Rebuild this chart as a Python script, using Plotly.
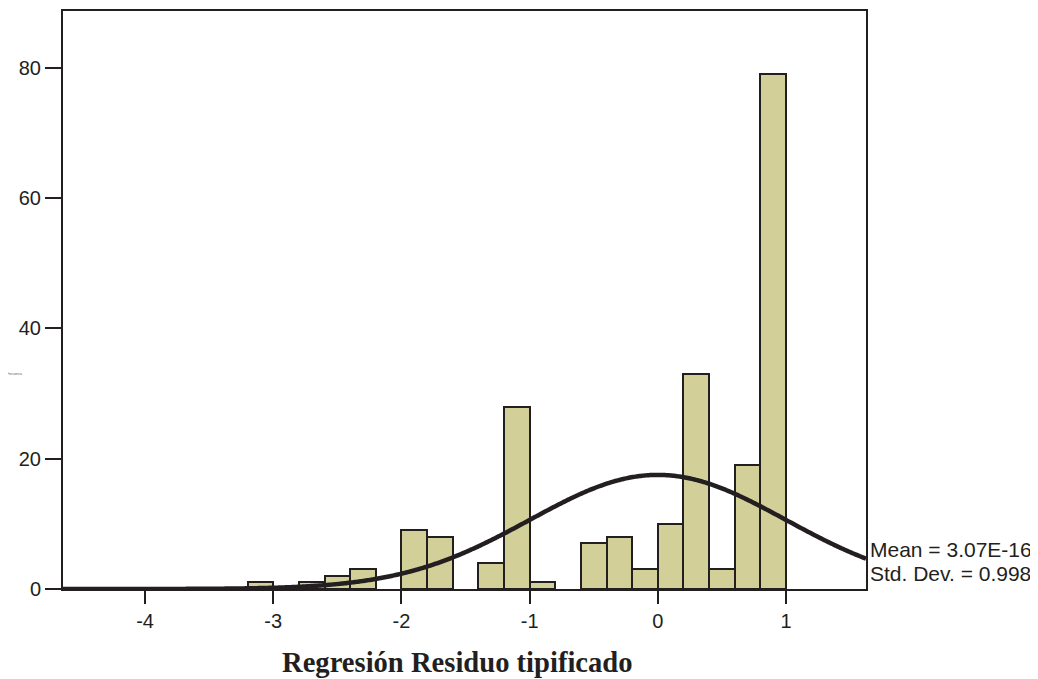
import numpy as np
import plotly.graph_objects as go

# Histogram data (bin starts, width 0.2)
bin_starts = [-3.2, -2.8, -2.6, -2.4, -2.0, -1.8, -1.4, -1.2, -1.0,
              -0.6, -0.4, -0.2, 0.0, 0.2, 0.4, 0.6, 0.8]
counts = [1, 1, 2, 3, 9, 8, 4, 28, 1, 7, 8, 3, 10, 33, 3, 19, 79]
bin_width = 0.2
mean_val = 3.07e-16
std_val = 0.998
x_ticks = [-4, -3, -2, -1, 0, 1]
y_ticks = [0, 20, 40, 60, 80]

n_total = sum(counts)
centers = [b + bin_width / 2 for b in bin_starts]

xr = [-4.64, 1.624]
xs = np.linspace(xr[0], xr[1], 600)
ys = n_total * bin_width / (std_val * np.sqrt(2 * np.pi)) * np.exp(-0.5 * ((xs - mean_val) / std_val) ** 2)

ink = "#231f20"
fig = go.Figure()
fig.add_trace(go.Bar(x=centers, y=counts, width=[bin_width] * len(counts),
                     marker=dict(color="#d3cf99", line=dict(color=ink, width=2)),
                     hoverinfo="x+y"))
fig.add_trace(go.Scatter(x=xs, y=ys, mode="lines",
                         line=dict(color=ink, width=4.5, simplify=False),
                         cliponaxis=True))

# page body has an 8px margin, so the figure is sized/offset to compensate
fig.update_layout(
    width=1030, height=671,
    margin=dict(l=55, r=172, t=1, b=90),
    paper_bgcolor="white", plot_bgcolor="white",
    showlegend=False, bargap=0,
    font=dict(family="Liberation Sans, Arial", color=ink),
    xaxis=dict(range=xr, tickvals=x_ticks, ticktext=[str(v) for v in x_ticks],
               showgrid=False, zeroline=False, showline=True, mirror=True,
               linecolor=ink, linewidth=2, ticks="outside", ticklen=13,
               tickwidth=2, tickcolor=ink, tickfont=dict(size=20, color=ink)),
    yaxis=dict(range=[0, 88.7], tickvals=y_ticks, ticktext=[str(v) for v in y_ticks],
               showgrid=False, zeroline=False, showline=True, mirror=True,
               linecolor=ink, linewidth=2, ticks="outside", ticklen=16,
               tickwidth=2, tickcolor=ink, tickfont=dict(size=20, color=ink)),
    annotations=[
        dict(text="Mean = 3.07E-16", xref="paper", yref="paper", x=1, y=0.069,
             xanchor="left", yanchor="middle", xshift=2, showarrow=False,
             font=dict(size=21, color=ink, family="Liberation Sans, Arial")),
        dict(text="Std. Dev. = 0.998", xref="paper", yref="paper", x=1, y=0.0276,
             xanchor="left", yanchor="middle", xshift=2, showarrow=False,
             font=dict(size=21, color=ink, family="Liberation Sans, Arial")),
        dict(text="<b>Regresión Residuo tipificado</b>", xref="paper", yref="paper",
             x=(457 - 63) / (866 - 63), y=-0.127, xanchor="center", yanchor="middle",
             showarrow=False,
             font=dict(size=28.6, color=ink, family="Liberation Serif, Times New Roman")),
        dict(text="Frecuencia", xref="paper", yref="paper", x=-0.06, y=(589 - 373) / 580,
             xanchor="center", yanchor="middle", showarrow=False,
             font=dict(size=3, color="#555555")),
    ],
)

fig.write_html("out.html")
